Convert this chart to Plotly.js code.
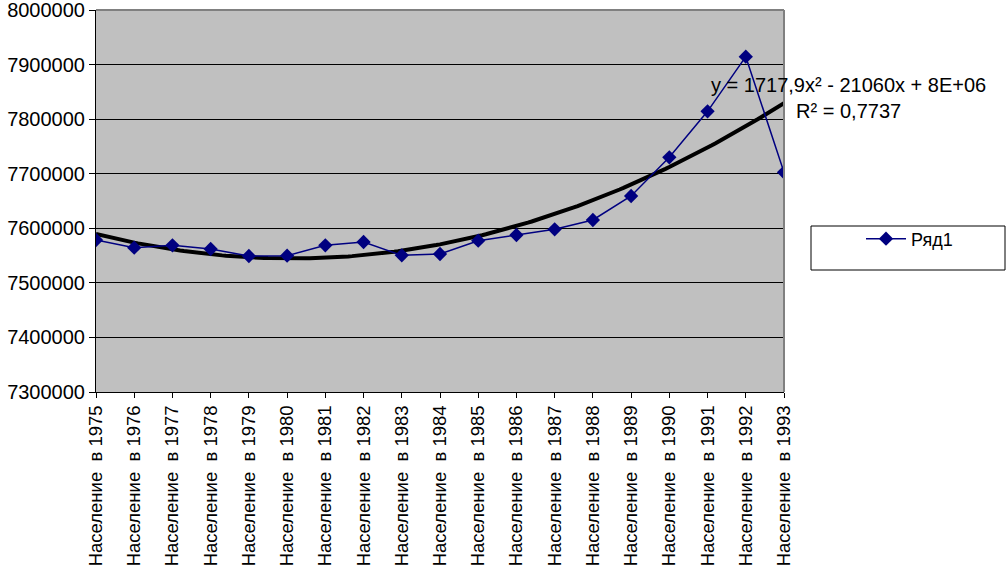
<!DOCTYPE html>
<html>
<head>
<meta charset="utf-8">
<script src="https://cdn.plot.ly/plotly-3.0.1.min.js"></script>
<style>
html,body{margin:0;padding:0;background:#fff;}
#chart{width:1008px;height:566px;}
</style>
</head>
<body>
<div id="chart"></div>
<script>
// Data
const years = [1975,1976,1977,1978,1979,1980,1981,1982,1983,1984,1985,1986,1987,1988,1989,1990,1991,1992,1993];
const categoryLabels = years.map(y => "Население \u00a0в " + y);
const seriesName = "Ряд1";
const population = [7578500,7564500,7568800,7562000,7549200,7549800,7568800,7574900,7550400,7552900,7577300,7587700,7598100,7615200,7659200,7730000,7814300,7914500,7702500];
const equationText = "y = 1717,9x² - 21060x + 8E+06<br>R² = 0,7737";

// index positions 1..N (Excel category numbering)
const idx = population.map((_, i) => i + 1);

// least squares polynomial (order 2) trendline, computed from the data
function polyFit2(xs, ys) {
  let n = xs.length, sx=0, sx2=0, sx3=0, sx4=0, sy=0, sxy=0, sx2y=0;
  for (let i = 0; i < n; i++) {
    const x = xs[i], y = ys[i];
    sx += x; sx2 += x*x; sx3 += x*x*x; sx4 += x*x*x*x;
    sy += y; sxy += x*y; sx2y += x*x*y;
  }
  const M = [[n,sx,sx2,sy],[sx,sx2,sx3,sxy],[sx2,sx3,sx4,sx2y]];
  for (let c = 0; c < 3; c++) {
    for (let r = c+1; r < 3; r++) {
      const f = M[r][c] / M[c][c];
      for (let k = c; k < 4; k++) M[r][k] -= f * M[c][k];
    }
  }
  const sol = [0,0,0];
  for (let r = 2; r >= 0; r--) {
    let s = M[r][3];
    for (let k = r+1; k < 3; k++) s -= M[r][k] * sol[k];
    sol[r] = s / M[r][r];
  }
  return sol; // [c, b, a]
}
const coef = polyFit2(idx, population);
const trendX = [], trendY = [];
for (let t = 1; t <= population.length + 1e-9; t += 0.1) {
  trendX.push(t);
  trendY.push(coef[0] + coef[1]*t + coef[2]*t*t);
}

const font = "'Liberation Sans', Arial, sans-serif";

const traces = [
  {
    x: trendX, y: trendY, type: 'scatter', mode: 'lines',
    line: {color: '#000000', width: 4},
    showlegend: false, hoverinfo: 'skip'
  },
  {
    x: idx, y: population, type: 'scatter', mode: 'lines+markers',
    name: seriesName,
    line: {color: '#000080', width: 1.5},
    marker: {symbol: 'diamond', size: 11, color: '#000080'}
  }
];

const L = 96, R = 224, T = 10, B = 174;
const W = 1008 - L - R, H = 566 - T - B;
const px = v => (v - L) / W;
const py = v => (566 - B - v) / H;

const layout = {
  width: 1008, height: 566,
  margin: {l: L, r: R, t: T, b: B, pad: 0},
  paper_bgcolor: '#ffffff',
  plot_bgcolor: '#c0c0c0',
  font: {family: font, size: 19, color: '#000'},
  xaxis: {
    range: [1, population.length],
    tickvals: idx, ticktext: categoryLabels,
    tickangle: -90,
    ticks: 'outside', ticklen: 5, tickcolor: '#000', tickwidth: 1,
    showline: true, linecolor: '#000', linewidth: 1,
    showgrid: false, zeroline: false,
    tickfont: {family: font, size: 18.5, color: '#000'},
    ticklabeloverflow: 'allow',
    automargin: false
  },
  yaxis: {
    range: [7300000, 8000000],
    dtick: 100000, tick0: 7300000,
    tickformat: 'd',
    ticks: 'outside', ticklen: 6, tickcolor: '#000', tickwidth: 1,
    showline: true, linecolor: '#000', linewidth: 1,
    showgrid: true, gridcolor: '#000', gridwidth: 1,
    zeroline: false,
    tickfont: {family: font, size: 20, color: '#000'},
    ticklabeloverflow: 'allow',
    automargin: false
  },
  showlegend: true,
  legend: {
    x: px(861), y: py(239), xanchor: 'left', yanchor: 'middle',
    bgcolor: 'rgba(0,0,0,0)', borderwidth: 0, itemwidth: 40,
    font: {family: font, size: 18, color: '#000'}
  },
  shapes: [
    {type: 'line', xref: 'paper', yref: 'paper', x0: 0, x1: 1, y0: 1, y1: 1,
     line: {color: '#808080', width: 2}},
    {type: 'line', xref: 'paper', yref: 'paper', x0: 1, x1: 1, y0: 0, y1: 1,
     line: {color: '#808080', width: 2}},
    {type: 'rect', xref: 'paper', yref: 'paper',
     x0: px(811), x1: px(1005), y0: py(270), y1: py(226),
     line: {color: '#000', width: 1}, fillcolor: 'rgba(0,0,0,0)'}
  ],
  annotations: [
    {xref: 'paper', yref: 'paper', x: px(848), y: py(98),
     xanchor: 'center', yanchor: 'middle', align: 'center',
     showarrow: false, text: equationText,
     font: {family: font, size: 20, color: '#000'}}
  ]
};

Plotly.newPlot('chart', traces, layout, {displayModeBar: false, staticPlot: true});
</script>
</body>
</html>
